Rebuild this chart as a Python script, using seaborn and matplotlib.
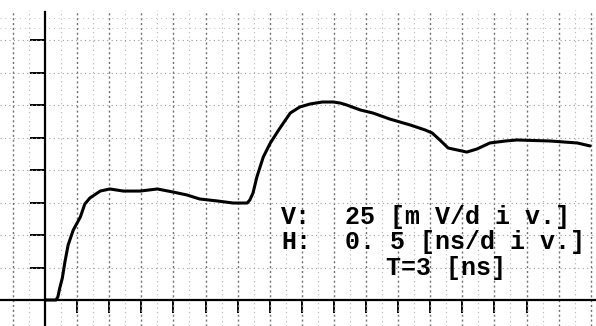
import matplotlib
matplotlib.use("Agg")
import matplotlib.pyplot as plt
import seaborn as sns
import numpy as np
import pandas as pd

# ---- data: time in ns, voltage in mV ----
time_ns = [0.0, 0.17, 0.20, 0.23, 0.27, 0.31, 0.36, 0.44, 0.55, 0.62,
           0.70, 0.86, 1.01, 1.22, 1.48, 1.75, 1.99, 2.21, 2.41, 2.68,
           2.93, 3.15, 3.19, 3.24, 3.30, 3.40, 3.51, 3.66, 3.82, 3.97,
           4.13, 4.32, 4.49, 4.60, 4.70, 4.91, 5.11, 5.37, 5.69, 5.92,
           6.03, 6.15, 6.28, 6.42, 6.57, 6.73, 6.93, 7.17, 7.35, 7.87,
           8.29, 8.49]
volt_mv = [0, 0, 2.3, 9.2, 16.9, 29.2, 42.3, 53.8, 63.8, 73.8,
           78.5, 83.8, 85.4, 83.8, 83.8, 85.4, 83.1, 80.8, 77.7, 76.2,
           74.6, 74.6, 76.9, 82.3, 94.6, 110.0, 120.8, 132.3, 143.8, 148.5,
           150.8, 152.3, 152.3, 151.5, 150.0, 146.2, 143.8, 139.2, 134.6, 130.8,
           128.5, 123.1, 116.9, 115.4, 113.8, 116.2, 120.8, 122.3, 123.1, 122.3,
           120.8, 118.5]

label_lines = ["V:", "H:"]
label_values = ["25 [m V/d i v.]", "0. 5 [ns/d i v.]"]
label_t = "T=3 [ns]"

NS_PER_DIV = 0.5
MV_PER_DIV = 25

sns.set_style("white")
plt.rcParams['font.family'] = ['Liberation Mono', 'DejaVu Sans Mono']

W, H = 596, 326
fig = plt.figure(figsize=(W / 100, H / 100), dpi=100)
ax = fig.add_axes([0, 0, 1, 1])

# pixel mapping used for limits: axis origin at px (45, 300)
xpx_per_div = 32.1
ypx_per_div = 32.5
x_min = -45 / xpx_per_div * NS_PER_DIV
x_max = (W - 45) / xpx_per_div * NS_PER_DIV
y_min = -(H - 300) / ypx_per_div * MV_PER_DIV
y_max = 300 / ypx_per_div * MV_PER_DIV
y_top_grid = (300 - 10) / ypx_per_div * MV_PER_DIV

# dotted grid
major_x = np.arange(-1, 18) * NS_PER_DIV
minor_x = np.arange(-3, 35, 2) * NS_PER_DIV / 2
ax.vlines(minor_x, y_min, y_top_grid, colors="#b5b5b5", linewidth=0.8,
          linestyles=(0, (1, 3)), zorder=1)
ax.vlines(major_x[major_x != 0], y_min, y_top_grid, colors="#707070",
          linewidth=1.0, linestyles=(0, (1.5, 2)), zorder=1)
major_y = np.arange(1, 9) * MV_PER_DIV
ax.hlines(major_y, x_min, x_max, colors="#9a9a9a", linewidth=0.8,
          linestyles=(0, (1, 3)), zorder=1)
top_noise = [(300 - 18) / ypx_per_div * MV_PER_DIV, (300 - 28) / ypx_per_div * MV_PER_DIV]
ax.hlines(top_noise, x_min, x_max, colors="#c0c0c0", linewidth=0.7,
          linestyles=(0, (1, 4)), zorder=1)

# trace
df = pd.DataFrame({"t": time_ns, "v": volt_mv})
sns.lineplot(data=df, x="t", y="v", ax=ax, color="black", linewidth=2.2,
             estimator=None, sort=False, zorder=5)

ax.set_xlim(x_min, x_max)
ax.set_ylim(y_min, y_max)
ax.set_xlabel("")
ax.set_ylabel("")

# axes drawn as spines through the origin
for s in ["top", "right"]:
    ax.spines[s].set_visible(False)
ax.spines["left"].set_position(("data", 0))
ax.spines["bottom"].set_position(("data", 0))
ax.spines["left"].set_bounds(y_min, (300 - 12) / ypx_per_div * MV_PER_DIV)
ax.spines["left"].set_linewidth(1.6)
ax.spines["bottom"].set_linewidth(1.6)
ax.spines["left"].set_color("black")
ax.spines["bottom"].set_color("black")

ax.set_yticks(major_y)
ax.set_xticks(np.arange(1, 16) * NS_PER_DIV)
ax.tick_params(axis="y", direction="out", length=10.8, width=1.4,
               labelleft=False, left=True, color="black")
ax.tick_params(axis="x", direction="out", length=9.4, width=1.4,
               labelbottom=False, bottom=True, color="black")

# annotation text
fs = 18
def fx(px):
    return px / W
def fy(py):
    return 1 - py / H

txt_kw = dict(fontsize=fs, va="baseline", ha="left", color="black",
              fontweight="bold")
for i, (a, b) in enumerate(zip(label_lines, label_values)):
    yb = fy(224 + 25 * i)
    fig.text(fx(281), yb, a, **txt_kw)
    fig.text(fx(345), yb, b, **txt_kw)
fig.text(fx(386), fy(275), label_t, **txt_kw)

fig.savefig("out.png", dpi=100, facecolor="white")
